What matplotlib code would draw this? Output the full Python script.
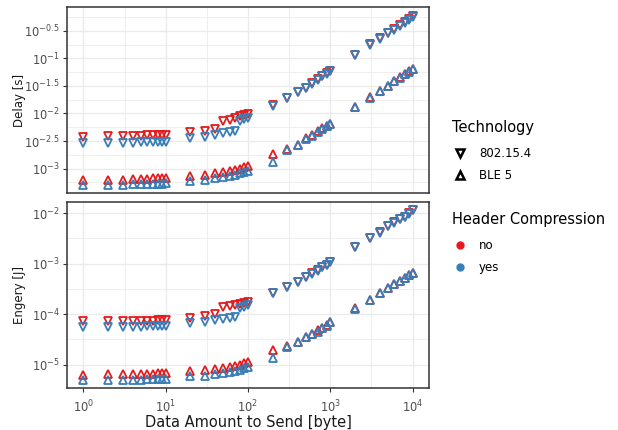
import matplotlib
matplotlib.use("Agg")
import matplotlib.pyplot as plt
import numpy as np
from matplotlib.lines import Line2D
from matplotlib.ticker import FixedLocator, FixedFormatter, NullFormatter

plt.rcParams["font.family"] = "DejaVu Sans"
plt.rcParams["mathtext.default"] = "regular"

# data amount [byte]
x_bytes = [1, 2, 3, 4, 5, 6, 7, 8, 9, 10,
           20, 30, 40, 50, 60, 70, 80, 90, 100,
           200, 300, 400, 500, 600, 700, 800, 900, 1000,
           2000, 3000, 4000, 5000, 6000, 7000, 8000, 9000, 10000]

# log10 of delay [s]
delay_154_no = [-2.42, -2.415, -2.41, -2.405, -2.40, -2.398, -2.395, -2.392, -2.39, -2.385,
                -2.34, -2.31, -2.28, -2.13, -2.11, -2.08, -2.05, -2.03, -2.01,
                -1.85, -1.71, -1.61, -1.53, -1.45, -1.38, -1.32, -1.27, -1.23,
                -0.94, -0.745, -0.636, -0.53, -0.47, -0.40, -0.345, -0.29, -0.235]
delay_154_yes = [-2.54, -2.54, -2.535, -2.53, -2.525, -2.52, -2.52, -2.515, -2.51, -2.51,
                 -2.44, -2.42, -2.39, -2.36, -2.33, -2.31, -2.13, -2.10, -2.09,
                 -1.86, -1.715, -1.615, -1.535, -1.455, -1.385, -1.325, -1.275, -1.235,
                 -0.945, -0.75, -0.64, -0.535, -0.475, -0.405, -0.35, -0.295, -0.24]
delay_ble_no = [-3.21, -3.205, -3.20, -3.195, -3.19, -3.185, -3.18, -3.175, -3.17, -3.165,
                -3.14, -3.12, -3.09, -3.06, -3.04, -3.02, -3.00, -2.98, -2.96,
                -2.73, -2.645, -2.57, -2.45, -2.39, -2.32, -2.265, -2.225, -2.19,
                -1.875, -1.705, -1.585, -1.495, -1.405, -1.345, -1.285, -1.235, -1.19]
delay_ble_yes = [-3.30, -3.30, -3.295, -3.29, -3.29, -3.285, -3.28, -3.28, -3.275, -3.27,
                 -3.23, -3.21, -3.18, -3.16, -3.14, -3.12, -3.09, -3.07, -3.04,
                 -2.89, -2.655, -2.58, -2.46, -2.40, -2.34, -2.275, -2.235, -2.20,
                 -1.88, -1.71, -1.59, -1.50, -1.41, -1.35, -1.29, -1.24, -1.195]

# log10 of energy [J]
energy_154_no = [-4.145, -4.14, -4.14, -4.135, -4.135, -4.13, -4.13, -4.125, -4.125, -4.12,
                 -4.07, -4.03, -4.00, -3.85, -3.84, -3.82, -3.79, -3.78, -3.76,
                 -3.575, -3.46, -3.355, -3.265, -3.19, -3.13, -3.065, -3.03, -2.97,
                 -2.67, -2.49, -2.38, -2.25, -2.18, -2.11, -2.07, -2.00, -1.935]
energy_154_yes = [-4.26, -4.255, -4.25, -4.25, -4.245, -4.24, -4.24, -4.235, -4.235, -4.23,
                  -4.18, -4.15, -4.12, -4.10, -4.07, -4.05, -3.87, -3.85, -3.82,
                  -3.585, -3.465, -3.36, -3.27, -3.195, -3.135, -3.07, -3.035, -2.975,
                  -2.675, -2.495, -2.385, -2.255, -2.185, -2.115, -2.075, -2.005, -1.94]
energy_ble_no = [-5.20, -5.195, -5.19, -5.19, -5.185, -5.18, -5.18, -5.175, -5.17, -5.165,
                 -5.12, -5.10, -5.085, -5.065, -5.04, -5.02, -5.00, -4.975, -4.955,
                 -4.71, -4.64, -4.555, -4.455, -4.39, -4.315, -4.27, -4.225, -4.16,
                 -3.885, -3.715, -3.585, -3.485, -3.405, -3.335, -3.275, -3.225, -3.185]
energy_ble_yes = [-5.315, -5.31, -5.305, -5.305, -5.30, -5.295, -5.29, -5.29, -5.285, -5.28,
                  -5.23, -5.22, -5.18, -5.16, -5.14, -5.12, -5.10, -5.07, -5.05,
                  -4.87, -4.65, -4.56, -4.46, -4.395, -4.36, -4.275, -4.23, -4.165,
                  -3.89, -3.72, -3.59, -3.49, -3.41, -3.34, -3.28, -3.23, -3.19]

RED = "#E41A1C"
BLUE = "#377EB8"
GRID = "#EBEBEB"

fig = plt.figure(figsize=(6.18, 4.30), dpi=100)
ax_top = fig.add_axes([0.1084, 0.5505, 0.5858, 0.4332])
ax_bot = fig.add_axes([0.1084, 0.0970, 0.5858, 0.4340], sharex=ax_top)


def draw_panel(ax, series, major_exp, minor_exp, ylim_exp, ylabel):
    for vals, marker, color in series:
        ax.plot(x_bytes, 10 ** np.asarray(vals), linestyle="none", marker=marker,
                ms=6.0, mfc="none", mec=color, mew=1.3, zorder=3)
    ax.set_xscale("log")
    ax.set_yscale("log")
    ax.set_xlim(10 ** -0.2, 10 ** 4.2)
    ax.set_ylim(10 ** ylim_exp[0], 10 ** ylim_exp[1])
    ax.yaxis.set_major_locator(FixedLocator(10.0 ** np.asarray(major_exp)))
    ax.yaxis.set_major_formatter(FixedFormatter(
        [r"$10^{%g}$" % e for e in major_exp]))
    ax.yaxis.set_minor_locator(FixedLocator(10.0 ** np.asarray(minor_exp)))
    ax.yaxis.set_minor_formatter(NullFormatter())
    ax.xaxis.set_major_locator(FixedLocator([1, 10, 100, 1000, 10000]))
    ax.xaxis.set_major_formatter(FixedFormatter(
        [r"$10^{%d}$" % e for e in range(5)]))
    ax.xaxis.set_minor_locator(FixedLocator(10 ** np.arange(-0.5, 4.6, 1.0)))
    ax.xaxis.set_minor_formatter(NullFormatter())
    ax.grid(True, which="major", color=GRID, lw=1.0, zorder=0)
    ax.grid(True, which="minor", color=GRID, lw=0.6, zorder=0)
    ax.set_axisbelow(True)
    ax.tick_params(which="major", length=3, width=0.8, color="#333333",
                   labelsize=8.3, labelcolor="#4D4D4D", pad=2)
    ax.tick_params(which="minor", length=0)
    for s in ax.spines.values():
        s.set_color("#333333")
        s.set_linewidth(1.1)
    ax.set_ylabel(ylabel, fontsize=8.5, color="#1A1A1A")
    ax.yaxis.set_label_coords(-0.114, 0.5)


draw_panel(ax_top,
           [(delay_154_no, "v", RED), (delay_ble_no, "^", RED),
            (delay_154_yes, "v", BLUE), (delay_ble_yes, "^", BLUE)],
           [-3, -2.5, -2, -1.5, -1, -0.5],
           [-3.25, -2.75, -2.25, -1.75, -1.25, -0.75, -0.25],
           (-3.45, -0.065), "Delay [s]")
draw_panel(ax_bot,
           [(energy_154_no, "v", RED), (energy_ble_no, "^", RED),
            (energy_154_yes, "v", BLUE), (energy_ble_yes, "^", BLUE)],
           [-5, -4, -3, -2],
           [-5.5, -4.5, -3.5, -2.5],
           (-5.47, -1.77), "Engery [J]")

ax_top.tick_params(axis="x", which="both", length=0, labelbottom=False)
ax_bot.tick_params(axis="x", pad=4.5)
ax_bot.set_xlabel("Data Amount to Send [byte]", fontsize=10.5, color="#1A1A1A", labelpad=0)

tech_handles = [
    Line2D([], [], ls="none", marker="v", ms=5.5, mfc="none", mec="black", mew=1.8),
    Line2D([], [], ls="none", marker="^", ms=5.5, mfc="none", mec="black", mew=1.8),
]
comp_handles = [
    Line2D([], [], ls="none", marker="o", ms=5, color=RED),
    Line2D([], [], ls="none", marker="o", ms=5, color=BLUE),
]
leg_kw = dict(frameon=False, loc="upper left", fontsize=8.5, title_fontsize=10.5,
              handlelength=1.45, handletextpad=0.85, labelspacing=0.75,
              borderpad=0, borderaxespad=0, alignment="left")
leg1 = fig.legend(tech_handles, ["802.15.4", "BLE 5"], title="Technology",
                  bbox_to_anchor=(0.731, 0.722), **leg_kw)
leg2 = fig.legend(comp_handles, ["no", "yes"], title="Header Compression",
                  bbox_to_anchor=(0.731, 0.508), **leg_kw)
for leg in (leg1, leg2):
    leg._legend_box.sep = 9

fig.savefig("out.png", dpi=100, facecolor="white")
